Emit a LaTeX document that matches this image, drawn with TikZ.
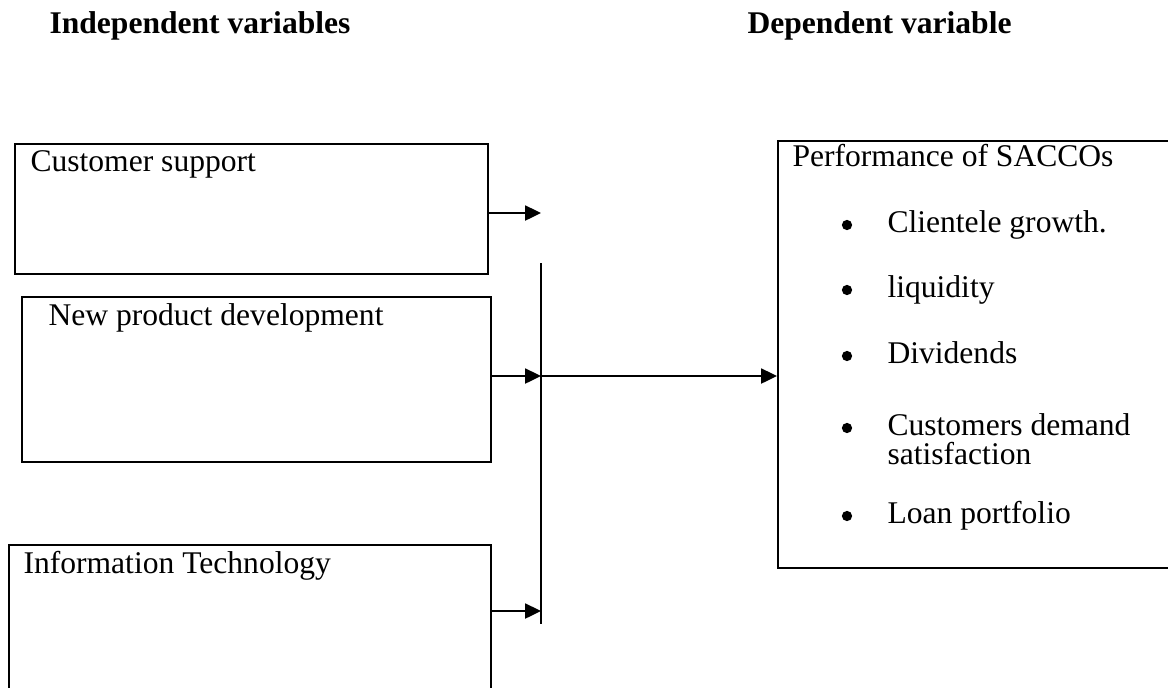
\documentclass[tikz,border=0pt]{standalone}
\usepackage{fontspec}
\setmainfont{Liberation Serif}
\usetikzlibrary{arrows.meta,positioning}
\newcommand\fs{\fontsize{12}{11}\selectfont}

\begin{document}
\begin{tikzpicture}[x=0.38pt,y=-0.38pt,>={Triangle[length=6pt,width=5.6pt]},font=\fs]
\tikzstyle{box}=[draw,line width=0.8pt,anchor=north west,inner sep=0pt]
\tikzstyle{txt}=[anchor=base west,inner sep=0pt]
\tikzstyle{arr}=[->,line width=1pt]
\tikzstyle{dot}=[circle,fill,inner sep=0pt,minimum size=3.9pt]
\clip (0,0) rectangle (1168,687);
\node[txt] (ivar) at (49,33) {\textbf{Independent variables}};
\node[txt] (dvar) at (747,33) {\textbf{Dependent variable}};
% independent side
\node[box,minimum width=179.7pt,minimum height=49.4pt] (cs) at (14,143) {};
\node[txt] (cst) at (30,171) {Customer support};
\node[box,minimum width=178.2pt,minimum height=62.7pt] (npd) at (21,296) {};
\node[txt] (npdt) at (48,325) {New product development};
\node[box,minimum width=183.2pt,minimum height=62pt] (it) at (8,544) {};
\node[txt] (itt) at (23,573) {Information Technology};
% dependent side
\node[box,minimum width=153pt,minimum height=162.2pt] (perf) at (777,140) {};
\node[txt] (perft) at (792,166) {Performance of SACCOs};
\foreach \y/\t in {232/Clientele growth.,297/liquidity,363/Dividends,435/Customers demand,523/Loan portfolio}
  {\node[dot] (b\y) at (847,\y-7) {}; \node[txt] (i\y) at (887,\y) {\t};}
\node[txt] (i464) at (887,464) {satisfaction};
% bus and arrows
\coordinate (bt) at (541,263); \coordinate (bb) at (541,624);
\coordinate (j1) at (541,213); \coordinate (j2) at (541,376); \coordinate (j3) at (541,611);
\draw[line width=0.8pt] (bt) -- (bb);
\draw[arr] (cs.east |- j1) -- (j1);
\draw[arr] (npd.east |- j2) -- (j2);
\draw[arr] (it.east |- j3) -- (j3);
\draw[arr] (j2) -- (perf.west |- j2);
\end{tikzpicture}
\end{document}
